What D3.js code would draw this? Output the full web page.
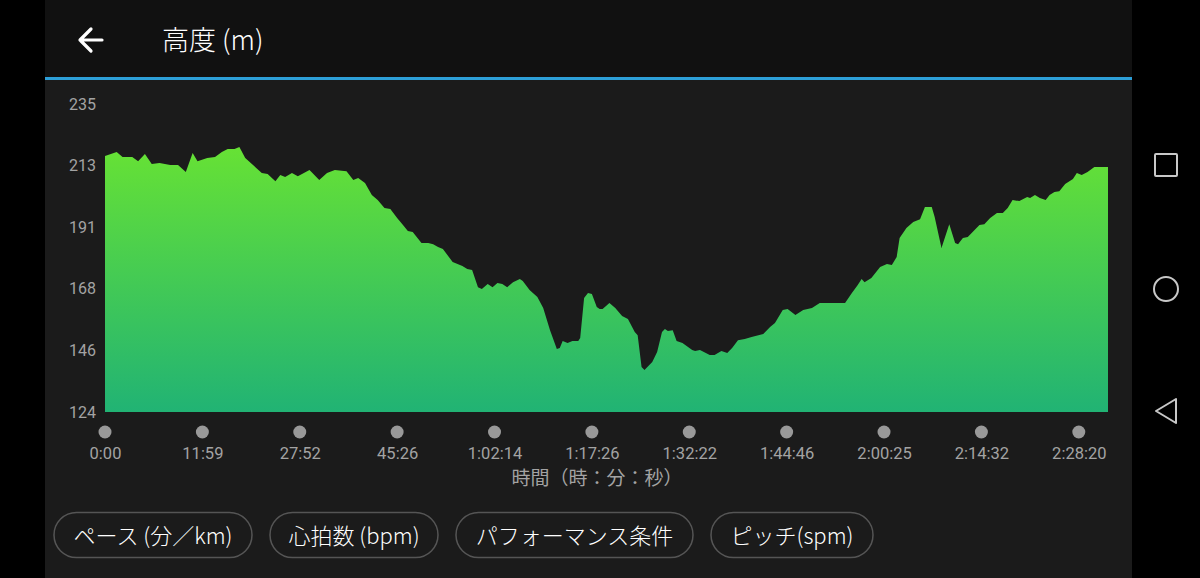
<!DOCTYPE html>
<html>
<head>
<meta charset="utf-8">
<script src="https://cdn.jsdelivr.net/npm/d3@7"></script>
<style>
  html, body { margin: 0; padding: 0; background: #000; }
  svg { display: block; }
</style>
</head>
<body>
<svg id="chart" width="1200" height="578"></svg>
<script>
// ---- data ----
const title = "高度 (m)";
const xAxisTitle = "時間（時：分：秒）";
// position along the track, in units of x-tick intervals
const position = [0,0.12,0.18,0.28,0.34,0.41,0.48,0.56,0.67,0.75,0.83,0.90,0.95,1.05,1.13,1.20,1.26,1.33,1.38,1.44,1.52,1.61,1.67,1.75,1.80,1.85,1.92,1.98,2.10,2.20,2.28,2.36,2.48,2.55,2.60,2.67,2.74,2.80,2.87,2.93,3.00,3.06,3.11,3.16,3.25,3.32,3.37,3.42,3.47,3.57,3.67,3.72,3.77,3.83,3.87,3.93,3.98,4.03,4.08,4.13,4.19,4.26,4.29,4.36,4.44,4.50,4.57,4.64,4.67,4.70,4.75,4.80,4.86,4.88,4.92,4.96,5.00,5.05,5.08,5.11,5.18,5.24,5.31,5.37,5.44,5.47,5.51,5.54,5.62,5.67,5.72,5.75,5.78,5.83,5.87,5.93,6.03,6.06,6.11,6.21,6.26,6.33,6.39,6.44,6.50,6.57,6.64,6.76,6.83,6.88,6.96,7.01,7.09,7.17,7.26,7.34,7.41,7.49,7.60,7.67,7.73,7.77,7.80,7.87,7.96,8.03,8.08,8.13,8.16,8.23,8.30,8.37,8.42,8.49,8.52,8.59,8.67,8.73,8.76,8.81,8.86,8.91,8.98,9.03,9.09,9.16,9.22,9.27,9.32,9.39,9.47,9.50,9.55,9.60,9.66,9.70,9.75,9.80,9.86,9.94,9.98,10.03,10.09,10.16,10.29,10.30];
// elevation (m)
const elevation = [216.3,217.7,215.9,215.9,214.4,217.0,213.4,213.7,213.0,213.0,210.5,217.3,214.4,215.5,215.9,217.7,218.8,218.8,219.5,215.5,213.0,210.1,209.8,207.2,209.4,208.7,210.1,209.0,211.2,207.6,210.1,211.2,210.8,207.6,208.3,206.5,202.2,200.4,197.5,197.2,193.9,191.4,189.2,188.9,184.9,184.9,184.5,183.5,182.7,178.1,176.6,175.5,175.2,169.0,168.3,170.1,169.0,170.5,170.1,169.0,170.8,171.9,171.2,168.0,165.4,161.5,153.5,146.7,147.1,149.6,148.9,149.6,149.6,150.7,165.1,166.9,166.5,161.8,161.1,161.1,163.3,161.5,158.6,157.5,152.8,151.7,140.2,139.1,142.0,145.6,152.8,153.9,153.2,153.5,149.6,148.9,146.3,146.0,146.3,144.5,144.5,146.0,145.3,147.1,149.9,150.3,151.0,152.1,154.6,156.1,160.8,161.1,159.0,160.8,161.5,163.3,163.3,163.3,163.3,166.9,169.8,171.9,170.8,172.3,176.3,177.3,177.0,179.9,186.7,190.3,192.5,193.5,197.9,197.9,194.3,183.1,191.7,184.9,184.5,186.7,187.1,188.9,191.4,191.7,193.9,195.7,195.7,197.5,200.4,200.0,201.5,201.1,202.2,201.1,200.4,202.2,203.3,203.6,206.2,208.0,210.1,209.4,210.5,212.3,212.3,212.3];
const yTickValues = [124, 146.2, 168.4, 190.6, 212.8, 235];
const yTickLabels = ["124", "146", "168", "191", "213", "235"];
const xTickValues = [0,1,2,3,4,5,6,7,8,9,10];
const xTickLabels = ["0:00","11:59","27:52","45:26","1:02:14","1:17:26","1:32:22","1:44:46","2:00:25","2:14:32","2:28:20"];
const buttons = ["ペース (分／km)", "心拍数 (bpm)", "パフォーマンス条件", "ピッチ(spm)"];

// ---- drawing ----
const svg = d3.select("#chart");
const W = 1200, H = 578;
const panelL = 45, panelR = 1132;
const cjk = "'Noto Sans CJK JP', 'Noto Sans', sans-serif";
const num = "Roboto, 'Noto Sans', sans-serif";

// backgrounds
svg.append("rect").attr("width", W).attr("height", H).attr("fill", "#000");
svg.append("rect").attr("x", panelL).attr("y", 0).attr("width", panelR - panelL).attr("height", H).attr("fill", "#1b1b1b");
svg.append("rect").attr("x", panelL).attr("y", 0).attr("width", panelR - panelL).attr("height", 77).attr("fill", "#111111");
svg.append("rect").attr("x", panelL).attr("y", 77).attr("width", panelR - panelL).attr("height", 3).attr("fill", "#2d9fd8");

// header
svg.append("path").attr("d", "M80,40 L102,40 M91,29 L80,40 L91,51")
  .attr("fill", "none").attr("stroke", "#fff").attr("stroke-width", 3.2)
  .attr("stroke-linecap", "round").attr("stroke-linejoin", "round");
svg.append("text").attr("x", 162).attr("y", 50).attr("fill", "#fff")
  .attr("font-family", cjk).attr("font-weight", 300).attr("font-size", 27).text(title);

// scales
const x = d3.scaleLinear().domain([0, 10.3]).range([105, 1108]);
const y = d3.scaleLinear().domain([124, 235]).range([412, 104]);

// gradient
const defs = svg.append("defs");
const grad = defs.append("linearGradient").attr("id", "g")
  .attr("gradientUnits", "userSpaceOnUse")
  .attr("x1", 0).attr("x2", 0).attr("y1", y(220)).attr("y2", y(124));
grad.append("stop").attr("offset", 0).attr("stop-color", "#67e234");
grad.append("stop").attr("offset", 1).attr("stop-color", "#21b374");

const data = position.map((p, i) => ({ p, e: elevation[i] }));
const area = d3.area().x(d => x(d.p)).y0(y(124)).y1(d => y(d.e));
svg.append("path").datum(data).attr("d", area).attr("fill", "url(#g)");

// y axis
const yAxis = d3.axisLeft(y).tickValues(yTickValues).tickSize(0).tickPadding(0)
  .tickFormat((d, i) => yTickLabels[i]);
const gy = svg.append("g").attr("transform", "translate(96,0)").call(yAxis);
gy.select(".domain").remove();
gy.selectAll("text").attr("fill", "#a3a3a3").attr("font-family", num).attr("font-size", 16);

// x axis: dots + labels
const gx = svg.append("g");
gx.selectAll("circle").data(xTickValues).join("circle")
  .attr("cx", d => x(d)).attr("cy", 432).attr("r", 6.5).attr("fill", "#999");
const xAxis = d3.axisBottom(x).tickValues(xTickValues).tickSize(0).tickPadding(0)
  .tickFormat((d, i) => xTickLabels[i]);
const gxa = svg.append("g").attr("transform", "translate(0,447)").call(xAxis);
gxa.select(".domain").remove();
gxa.selectAll("text").attr("fill", "#a3a3a3").attr("font-family", num).attr("font-size", 16.5);
svg.append("text").attr("x", 597).attr("y", 485).attr("text-anchor", "middle")
  .attr("fill", "#a3a3a3").attr("font-family", cjk).attr("font-size", 19).text(xAxisTitle);

// buttons
const btnX = [54, 270, 456, 711], btnW = [198, 168, 237, 162];
buttons.forEach((b, i) => {
  svg.append("rect").attr("x", btnX[i]).attr("y", 512.5).attr("width", btnW[i]).attr("height", 45)
    .attr("rx", 22.5).attr("fill", "none").attr("stroke", "#555").attr("stroke-width", 1.5);
  svg.append("text").attr("x", btnX[i] + btnW[i] / 2).attr("y", 544).attr("text-anchor", "middle")
    .attr("fill", "#fff").attr("font-family", cjk).attr("font-weight", 300).attr("font-size", 22).text(b);
});

// nav bar
const nav = svg.append("g").attr("fill", "none").attr("stroke", "#c8c8c8").attr("stroke-width", 2);
nav.append("rect").attr("x", 1155).attr("y", 154).attr("width", 22).attr("height", 22).attr("rx", 1);
nav.append("circle").attr("cx", 1166).attr("cy", 289).attr("r", 12);
nav.append("path").attr("d", "M1176,399 L1156,411 L1176,423 Z").attr("stroke-linejoin", "round");
</script>
</body>
</html>
